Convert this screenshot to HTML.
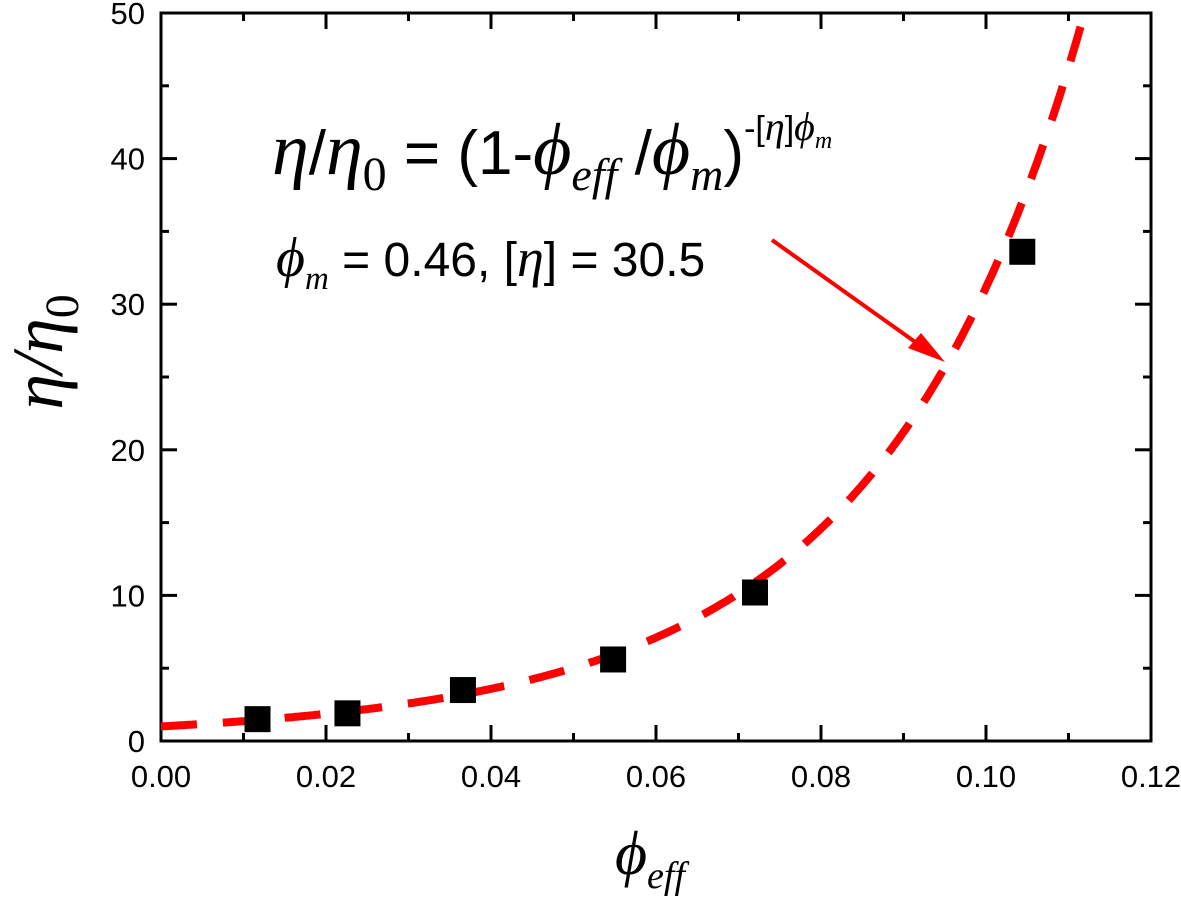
<!DOCTYPE html>
<html><head><meta charset="utf-8"><style>
html,body{margin:0;padding:0;background:#fff;}
svg{display:block;}
</style></head><body>
<svg id="chart" width="1181" height="905" viewBox="0 0 1181 905" xmlns="http://www.w3.org/2000/svg" font-family="Liberation Sans, sans-serif">
<g id="axes"></g>
<g id="curve-layer"></g>
<g id="points"></g>
<g>
  <text x="272" y="174" font-size="62" fill="#000"><tspan font-family="Liberation Serif, serif" font-style="italic" font-size="74">η</tspan>/<tspan font-family="Liberation Serif, serif" font-style="italic" font-size="74">η</tspan><tspan font-family="Liberation Serif, serif" font-size="48" dy="16">0</tspan><tspan dy="-16"> = (1-</tspan><tspan font-family="Liberation Serif, serif" font-style="italic" font-size="74">ϕ</tspan><tspan font-family="Liberation Serif, serif" font-style="italic" font-size="46" dy="16">eff</tspan><tspan dy="-16"> /</tspan><tspan font-family="Liberation Serif, serif" font-style="italic" font-size="74">ϕ</tspan><tspan font-family="Liberation Serif, serif" font-style="italic" font-size="46" dy="16">m</tspan><tspan dy="-16">)</tspan><tspan font-size="34" dy="-34">-[</tspan><tspan font-family="Liberation Serif, serif" font-style="italic" font-size="40">η</tspan><tspan font-size="34">]</tspan><tspan font-family="Liberation Serif, serif" font-style="italic" font-size="40">ϕ</tspan><tspan font-family="Liberation Serif, serif" font-style="italic" font-size="24" dy="8">m</tspan></text>
  <text x="276" y="276" font-size="48" fill="#000"><tspan font-family="Liberation Serif, serif" font-style="italic" font-size="56">ϕ</tspan><tspan font-family="Liberation Serif, serif" font-style="italic" font-size="33" dy="13">m</tspan><tspan dy="-13"> = 0.46, [</tspan><tspan font-family="Liberation Serif, serif" font-style="italic" font-size="54">η</tspan><tspan>] = 30.5</tspan></text>
  <line x1="772" y1="240" x2="925" y2="349" stroke="#ff0000" stroke-width="4"/>
  <polygon points="945,362 908,348 921,333" fill="#ff0000"/>
</g>
<text transform="translate(62,352) rotate(-90)" text-anchor="middle" font-family="Liberation Serif, serif" font-size="72" fill="#000"><tspan font-style="italic">η</tspan><tspan font-style="italic">/η</tspan><tspan font-size="48" dy="16">0</tspan></text>
<text x="650" y="874" text-anchor="middle" font-family="Liberation Serif, serif" font-style="italic" font-size="62" fill="#000">ϕ<tspan font-size="38" dy="14">eff</tspan></text>
</svg>
<script>
const xTicks = [0, 0.02, 0.04, 0.06, 0.08, 0.10, 0.12];
const xTickLabels = ["0.00","0.02","0.04","0.06","0.08","0.10","0.12"];
const yTicks = [0, 10, 20, 30, 40, 50];
const yTickLabels = ["0","10","20","30","40","50"];
const phiEff = [0.0117, 0.0226, 0.0366, 0.0548, 0.0720, 0.1044];
const viscRatio = [1.5, 1.9, 3.5, 5.6, 10.2, 33.6];
const phiM = [0.46];
const intrinsicVisc = [30.5];

const L=161,R=1151,T=13,B=741;
const xMin=0,xMax=0.12,yMin=0,yMax=50;
const sx=v=>L+(v-xMin)/(xMax-xMin)*(R-L);
const sy=v=>B-(v-yMin)/(yMax-yMin)*(B-T);
const NS="http://www.w3.org/2000/svg";
function mk(tag,attrs,parent){const e=document.createElementNS(NS,tag);for(const k in attrs)e.setAttribute(k,attrs[k]);parent.appendChild(e);return e;}
const axes=document.getElementById('axes');
const frame=mk('rect',{x:L,y:T,width:R-L,height:B-T,fill:'none',stroke:'#000','stroke-width':3},axes);


for(let i=0;i<xTicks.length;i++){
  const x=sx(xTicks[i]);
  const t1=mk('line',{x1:x,y1:B,x2:x,y2:B-16,stroke:'#000','stroke-width':3},axes);
  
  
  const t2=mk('line',{x1:x,y1:T,x2:x,y2:T+16,stroke:'#000','stroke-width':3},axes);
  
  
  const lb=mk('text',{x:x,y:787,'text-anchor':'middle','font-size':31,fill:'#000'},axes);
  lb.textContent=xTickLabels[i];
  
  
  if(i<xTicks.length-1){
    const xm=sx((xTicks[i]+xTicks[i+1])/2);
    const m1=mk('line',{x1:xm,y1:B,x2:xm,y2:B-8,stroke:'#000','stroke-width':3},axes);
    
    
    const m2=mk('line',{x1:xm,y1:T,x2:xm,y2:T+8,stroke:'#000','stroke-width':3},axes);
    
    
  }
}
for(let i=0;i<yTicks.length;i++){
  const y=sy(yTicks[i]);
  const t1=mk('line',{x1:L,y1:y,x2:L+16,y2:y,stroke:'#000','stroke-width':3},axes);
  
  
  const t2=mk('line',{x1:R,y1:y,x2:R-16,y2:y,stroke:'#000','stroke-width':3},axes);
  
  
  const lb=mk('text',{x:L-16,y:y+11,'text-anchor':'end','font-size':31,fill:'#000'},axes);
  lb.textContent=yTickLabels[i];
  
  
  if(i<yTicks.length-1){
    const ym=sy((yTicks[i]+yTicks[i+1])/2);
    const m1=mk('line',{x1:L,y1:ym,x2:L+8,y2:ym,stroke:'#000','stroke-width':3},axes);
    
    
    const m2=mk('line',{x1:R,y1:ym,x2:R-8,y2:ym,stroke:'#000','stroke-width':3},axes);
    
    
  }
}
const cl=document.getElementById('curve-layer');
let d='';
const ex=-intrinsicVisc[0]*phiM[0];
for(let k=0;k<=600;k++){
  const x=xMin+k/600*(xMax-xMin);
  const y=Math.pow(1-x/phiM[0],ex);
  if(y>yMax){
    const xp=phiM[0]*(1-Math.pow(yMax,1/ex));
    d+='L'+sx(xp).toFixed(1)+','+sy(yMax).toFixed(1);break;
  }
  d+=(k?'L':'M')+sx(x).toFixed(1)+','+sy(y).toFixed(1);
}
const path=mk('path',{d:d,fill:'none',stroke:'#ff0000','stroke-width':8,'stroke-dasharray':'36 26'},cl);


const pts=document.getElementById('points');
for(let i=0;i<phiEff.length;i++){
  const r=mk('rect',{x:sx(phiEff[i])-13,y:sy(viscRatio[i])-13,width:26,height:26,fill:'#000'},pts);
  
  
}
</script>
</body></html>
